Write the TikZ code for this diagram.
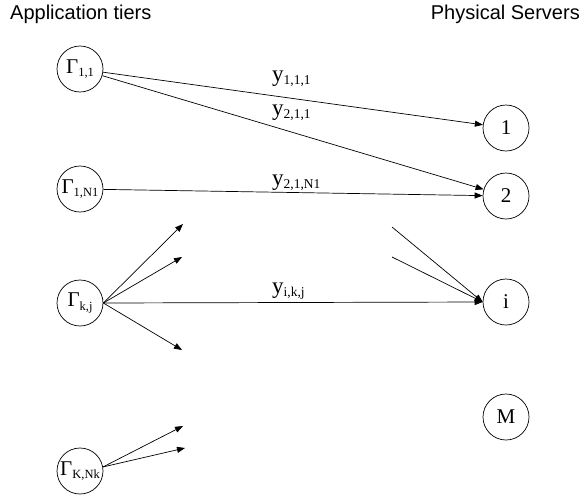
\documentclass[tikz,border=0pt]{standalone}
\usepackage{fontspec}
\setmainfont{Liberation Serif}
\newfontfamily\titlefont{Liberation Sans}
\usetikzlibrary{arrows.meta}
\newcommand{\lbl}[2]{{\fontsize{21}{21}\selectfont #1}\raisebox{-3.5pt}{\fontsize{12.5}{12.5}\selectfont #2}}
\newcommand{\ylbl}[1]{{\fontsize{23}{23}\selectfont y}\raisebox{-3.5pt}{\fontsize{13.5}{13.5}\selectfont #1}}
\tikzset{
  srv/.style={draw, circle, minimum size=46pt, inner sep=0pt, line width=0.7pt},
  conn/.style={line width=0.7pt, -{Triangle[length=8pt,width=6pt]}},
  ttl/.style={font=\titlefont\fontsize{20}{20}\selectfont, inner sep=0pt},
  ylab/.style={anchor=west, inner sep=0pt}
}
\begin{document}
\begin{tikzpicture}[x=1pt,y=-1pt]
\useasboundingbox (0,0) rectangle (585,498);
\node[ttl, anchor=west] (t1) at (10,14) {Application tiers};
\node[ttl, anchor=east] (t2) at (580,14) {Physical Servers};

\node[srv] (g11) at (80,69) {\lbl{Γ}{1,1}};
\node[srv] (g1n) at (80,189) {\lbl{Γ}{1,N1}};
\node[srv] (gkj) at (80,303) {\lbl{Γ}{k,j}};
\node[srv] (gkn) at (80,471) {\lbl{Γ}{K,Nk}};

\node[srv] (s1) at (506,128) {\fontsize{21}{21}\selectfont 1};
\node[srv] (s2) at (506,196) {\fontsize{21}{21}\selectfont 2};
\node[srv] (si) at (506,302) {\fontsize{21}{21}\selectfont i};
\node[srv] (sm) at (506,417) {\fontsize{21}{21}\selectfont M};

\coordinate (a1) at (183,224);
\coordinate (a2) at (182,257);
\coordinate (a3) at (182,350);
\coordinate (b1) at (183,426);
\coordinate (b2) at (185,448);
\coordinate (c1) at (392,227);
\coordinate (c2) at (392,257);

\draw[conn] (g11) -- (s1);
\draw[conn] (g11) -- (s2);
\draw[conn] (g1n) -- (s2);
\draw[conn] (gkj.east) -- (si.west);
\draw[conn] (gkj.east) -- (a1);
\draw[conn] (gkj.east) -- (a2);
\draw[conn] (gkj.east) -- (a3);
\draw[conn] (gkn.10) -- (b1);
\draw[conn] (gkn.10) -- (b2);
\draw[conn] (c1) -- (si.west);
\draw[conn] (c2) -- (si.west);

\node[ylab] (l1) at (272,79) {\ylbl{1,1,1}};
\node[ylab] (l2) at (272,113) {\ylbl{2,1,1}};
\node[ylab] (l3) at (272,183) {\ylbl{2,1,N1}};
\node[ylab] (l4) at (272,291) {\ylbl{i,k,j}};
\end{tikzpicture}
\end{document}
